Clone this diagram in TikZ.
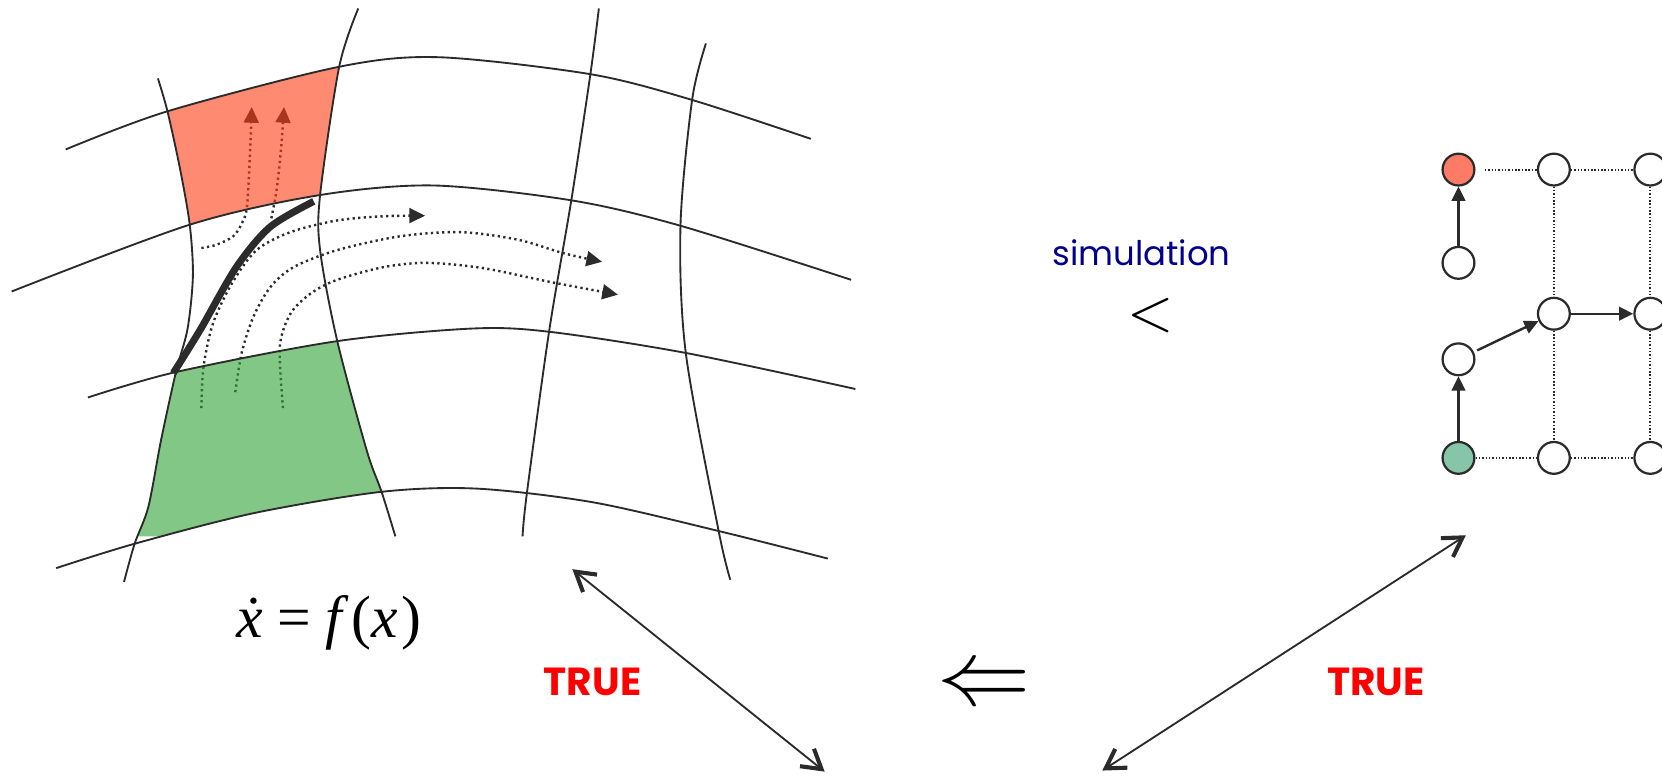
\documentclass[tikz,border=0pt]{standalone}
\usepackage{fontspec}
\usepackage{graphicx}
\usepackage{xcolor}
\usetikzlibrary{arrows.meta}
\usetikzlibrary{math}
\newfontfamily\comicfont{Poppins}
\newfontfamily\timesfont{Liberation Serif}
\definecolor{gridgray}{RGB}{43,43,43}
\definecolor{cellred}{RGB}{255,60,20}
\definecolor{cellgreen}{RGB}{47,162,52}
\definecolor{nodered}{RGB}{255,123,102}
\definecolor{nodegreen}{RGB}{135,197,168}
\definecolor{simblue}{RGB}{0,0,140}

% rows and columns of the flow box grid
\newcommand{\rowA}{plot[smooth] coordinates {(62,141) (158,105) (320,63) (414,54) (557,70) (652,94) (765,131)}}
\newcommand{\rowB}{plot[smooth] coordinates {(11,275) (179,212) (302,184) (409,175) (539,189) (642,213) (803,264)}}
\newcommand{\rowC}{plot[smooth] coordinates {(83,375) (166,351) (317,322) (445,310) (518,313) (647,333) (807,367)}}
\newcommand{\rowD}{plot[smooth] coordinates {(53,536) (127,513) (240,484) (360,464) (450,461) (560,474) (678,501) (781,527)}}
\newcommand{\colA}{plot[smooth] coordinates {(149,74) (158,105) (170,160) (179,212) (182,260) (177,310) (166,351) (152,415) (140,478) (127,513) (117,549)}}
\newcommand{\colB}{plot[smooth] coordinates {(338,8) (320,63) (302,184) (302,236) (318,321) (346,425) (360,464) (373,506)}}
\newcommand{\colC}{plot[smooth] coordinates {(565,8) (557,70) (539,189) (518,313) (497,466) (493,506)}}
\newcommand{\colD}{plot[smooth] coordinates {(666,41) (653,94) (642,213) (647,333) (678,501) (689,547)}}

\begin{document}
\begin{tikzpicture}[x=0.01cm, y=-0.01cm,
  grid/.style={line width=0.5pt, gridgray},
  traj/.style={line width=0.65pt, gridgray, dash pattern=on 0.6pt off 0.9pt, -{Triangle[length=4.2pt,width=4pt]}},
  vert/.style={circle, draw=gridgray, line width=0.6pt, fill=white, minimum size=0.3cm, inner sep=0pt},
  move/.style={line width=0.65pt, gridgray, -{Triangle[length=3.8pt,width=3.6pt]}},
  dots/.style={line width=0.5pt, gridgray, dash pattern=on 0.4pt off 0.5pt},
  link/.style={line width=0.5pt, gridgray, {Straight Barb[length=5pt,width=6pt,line width=1.1pt]}-{Straight Barb[length=5pt,width=6pt,line width=1.1pt]}},
  truelabel/.style={text=red, font=\comicfont\bfseries\fontsize{10.5}{12}\selectfont}]
\tikzmath{
\colL=1376;
\colM=1466;
\colR=1557;
}
\useasboundingbox (0,0) rectangle (1568,734);

% trajectories (under the cells)
\draw[traj] plot[smooth] coordinates {(190,234) (204,231) (220,223) (228,211) (233,195) (236,142) (237.5,101)};
\draw[traj] plot[smooth] coordinates {(256,206) (261,179) (265,142) (268,101)};
\draw[traj] plot[smooth] coordinates {(190,385) (192,346) (201,305) (219,267) (242,236) (274,219) (318,208) (362,204) (401,203.5)};
\draw[traj] plot[smooth] coordinates {(222,370) (228,333) (239,299) (255,271) (277,252) (318,236) (377,223) (434,219) (488,226) (532,239) (568,247)};
\draw[traj] plot[smooth] coordinates {(267,385) (264,327) (274,296) (293,277) (318,264) (362,252) (403,248) (456,253) (519,266) (583,278)};

% target cell
\begin{scope}
\clip \rowA -- (765,800) -- (62,800) -- cycle;
\clip \rowB -- (803,-100) -- (11,-100) -- cycle;
\clip \colA -- (1000,549) -- (1000,-100) -- (149,-100) -- cycle;
\fill[cellred, fill opacity=0.6] \colB -- (-100,506) -- (-100,-100) -- (338,-100) -- cycle;
\end{scope}

% initial cell
\begin{scope}
\clip \rowC -- (807,800) -- (83,800) -- cycle;
\clip \rowD -- (781,-100) -- (53,-100) -- cycle;
\clip \colA -- (1000,549) -- (1000,-100) -- (149,-100) -- cycle;
\fill[cellgreen, fill opacity=0.6] \colB -- (-100,506) -- (-100,-100) -- (338,-100) -- cycle;
\end{scope}

\draw[grid] \rowA;
\draw[grid] \rowB;
\draw[grid] \rowC;
\draw[grid] \rowD;
\draw[grid] \colA;
\draw[grid] \colB;
\draw[grid] \colC;
\draw[grid] \colD;

\draw[line width=1.9pt, gridgray] plot[smooth] coordinates {(163.5,352) (189,311) (223,252) (255,214) (296,190)};

\node[font=\timesfont\fontsize{16}{19}\selectfont] (ode) at (310,588) {\textit{\.{x}} = \textit{f}\kern0.5pt(\textit{x}\kern1pt)};

% abstraction
\node[vert, fill=nodered] (hit) at (\colL,160) {};
\node[vert] (a2) at (\colL,248) {};
\node[vert] (a3) at (\colL,339) {};
\node[vert, fill=nodegreen] (init) at (\colL,432) {};
\node[vert] (b1) at (\colM,160) {};
\node[vert] (b2) at (\colM,296) {};
\node[vert] (b3) at (\colM,432) {};
\node[vert] (c1) at (\colR,160) {};
\node[vert] (c2) at (\colR,296) {};
\node[vert] (c3) at (\colR,432) {};

\draw[dots, shorten <=2.5pt] (hit) -- (b1);
\draw[dots] (b1) -- (c1);
\draw[dots] (b1) -- (b2);
\draw[dots] (b2) -- (b3);
\draw[dots] (c1) -- (c2);
\draw[dots] (c2) -- (c3);
\draw[dots] (init) -- (b3);
\draw[dots] (b3) -- (c3);
\draw[move] (a2) -- (hit);
\draw[move] (init) -- (a3);
\draw[move, shorten <=1pt] (a3) -- (b2);
\draw[move] (b2) -- (c2);

\node[text=simblue, font=\comicfont\fontsize{9.1}{11}\selectfont] (sim) at (1077,238) {simulation};
\node (less) at (1086,298) {\scalebox{1.6}{$<$}};
\node (impl) at (928,649) {\scalebox{2.5}{$\Leftarrow$}};

\coordinate (lA) at (540,537);
\coordinate (lB) at (778,728);
\coordinate (rA) at (1040,727);
\coordinate (rB) at (1383,505);
\draw[link] (lA) -- (lB);
\draw[link] (rA) -- (rB);
\node[truelabel] (trueL) at (559,643) {TRUE};
\node[truelabel] (trueR) at (1298,643) {TRUE};
\end{tikzpicture}
\end{document}
